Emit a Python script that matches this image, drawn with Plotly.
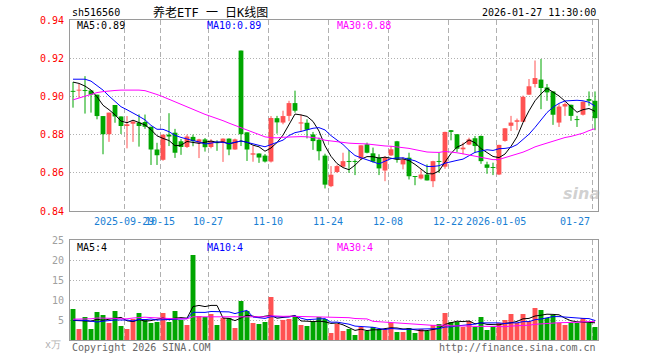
import plotly.graph_objects as go
import pandas as pd

# ---------------- data ----------------
dates = [
    "2025-09-16", "2025-09-17", "2025-09-18", "2025-09-19", "2025-09-22", "2025-09-23", "2025-09-24", "2025-09-25",
    "2025-09-26", "2025-09-29", "2025-09-30", "2025-10-09", "2025-10-10", "2025-10-13", "2025-10-14", "2025-10-15",
    "2025-10-16", "2025-10-17", "2025-10-20", "2025-10-21", "2025-10-22", "2025-10-23", "2025-10-24", "2025-10-27",
    "2025-10-28", "2025-10-29", "2025-10-30", "2025-10-31", "2025-11-03", "2025-11-04", "2025-11-05", "2025-11-06",
    "2025-11-07", "2025-11-10", "2025-11-11", "2025-11-12", "2025-11-13", "2025-11-14", "2025-11-17", "2025-11-18",
    "2025-11-19", "2025-11-20", "2025-11-21", "2025-11-24", "2025-11-25", "2025-11-26", "2025-11-27", "2025-11-28",
    "2025-12-01", "2025-12-02", "2025-12-03", "2025-12-04", "2025-12-05", "2025-12-08", "2025-12-09", "2025-12-10",
    "2025-12-11", "2025-12-12", "2025-12-15", "2025-12-16", "2025-12-17", "2025-12-18", "2025-12-19", "2025-12-22",
    "2025-12-23", "2025-12-24", "2025-12-25", "2025-12-26", "2025-12-29", "2025-12-30", "2025-12-31", "2026-01-05",
    "2026-01-06", "2026-01-07", "2026-01-08", "2026-01-09", "2026-01-12", "2026-01-13", "2026-01-14", "2026-01-15",
    "2026-01-16", "2026-01-19", "2026-01-20", "2026-01-21", "2026-01-22", "2026-01-23", "2026-01-26", "2026-01-27",
]

opens = [
    .9026, .9030, .9033, .9031, .9009, .8897, .8802, .8955, .8895, .8845,
    .8857, .8863, .8866, .8841, .8722, .8668, .8800, .8810, .8765, .8735,
    .8788, .8757, .8775, .8735, .8760, .8757, .8779, .8722, .9240, .8812,
    .8695, .8701, .8690, .8659, .8886, .8863, .8898, .8965, .8858, .8862,
    .8801, .8773, .8690, .8530, .8604, .8632, .8660, .8660, .8674, .8749,
    .8702, .8679, .8612, .8691, .8765, .8644, .8679, .8581, .8570, .8591,
    .8556, .8660, .8632, .8823, .8802, .8723, .8748, .8781, .8793, .8644,
    .8628, .8591, .8767, .8846, .8867, .8867, .9009, .9065, .9088, .9047,
    .9026, .8863, .8947, .8956, .8879, .8904, .8986, .8977,
]
highs = [
    .9075, .9065, .9106, .9031, .9009, .8897, .8915, .8955, .8895, .8897,
    .8871, .8906, .8905, .8841, .8757, .8800, .8912, .8830, .8777, .8800,
    .8800, .8778, .8782, .8776, .8770, .8780, .8780, .8779, .9240, .8812,
    .8740, .8702, .8698, .8897, .8898, .8925, .8977, .9030, .8905, .8880,
    .8814, .8784, .8700, .8635, .8640, .8705, .8719, .8670, .8744, .8758,
    .8732, .8697, .8688, .8740, .8767, .8682, .8705, .8581, .8618, .8644,
    .8663, .8705, .8815, .8824, .8802, .8758, .8784, .8793, .8795, .8658,
    .8653, .8747, .8834, .8898, .8884, .9004, .9091, .9188, .9196, .9065,
    .9027, .8960, .8968, .8957, .8898, .8974, .9026, .9026,
]
lows = [
    .8941, .8993, .8910, .8915, .8880, .8697, .8762, .8862, .8803, .8728,
    .8762, .8737, .8830, .8641, .8641, .8663, .8740, .8678, .8694, .8730,
    .8739, .8677, .8711, .8728, .8715, .8657, .8692, .8721, .8740, .8662,
    .8658, .8652, .8654, .8654, .8805, .8854, .8870, .8915, .8815, .8780,
    .8720, .8665, .8518, .8525, .8600, .8630, .8600, .8588, .8670, .8702,
    .8653, .8588, .8556, .8688, .8653, .8618, .8565, .8535, .8565, .8560,
    .8525, .8600, .8621, .8770, .8709, .8697, .8745, .8705, .8647, .8595,
    .8588, .8588, .8763, .8819, .8823, .8866, .9008, .9047, .8933, .8977,
    .8851, .8840, .8898, .8872, .8840, .8900, .8951, .8823,
]
closes = [
    .9024, .9032, .9028, .9009, .8897, .8802, .8915, .8895, .8845, .8854,
    .8868, .8845, .8841, .8722, .8692, .8800, .8790, .8705, .8735, .8790,
    .8766, .8775, .8734, .8767, .8755, .8779, .8722, .8775, .8802, .8722,
    .8702, .8680, .8659, .8887, .8864, .8897, .8965, .8925, .8864, .8825,
    .8766, .8713, .8538, .8590, .8635, .8661, .8657, .8657, .8744, .8705,
    .8658, .8623, .8679, .8723, .8670, .8667, .8582, .8578, .8591, .8560,
    .8661, .8657, .8814, .8814, .8726, .8732, .8775, .8740, .8661, .8626,
    .8625, .8746, .8833, .8863, .8875, .8998, .9053, .9096, .9044, .9021,
    .8904, .8947, .8960, .8898, .8876, .8972, .8977, .8886,
]
volumes = [  # 万
    7.75, 2.75, 5.75, 2.75, 7.0, 6.25, 4.25, 7.25, 3.5, 2.75,
    5.25, 6.75, 5.25, 4.25, 4.5, 6.75, 4.5, 7.25, 5.0, 3.75,
    21.25, 6.0, 5.75, 6.5, 3.75, 5.5, 5.5, 3.0, 9.75, 7.25,
    4.25, 4.0, 4.5, 10.75, 3.75, 5.0, 5.25, 6.0, 3.75, 3.5,
    4.5, 5.75, 5.25, 1.75, 4.0, 2.25, 2.75, 1.25, 3.25, 2.25,
    3.25, 2.75, 2.75, 4.25, 2.0, 2.0, 3.0, 1.75, 2.75, 2.25,
    3.75, 4.0, 6.75, 4.5, 4.5, 3.25, 4.75, 3.25, 5.75, 2.5,
    3.25, 4.25, 5.0, 6.5, 4.25, 6.5, 4.75, 8.0, 7.5, 5.5,
    6.25, 4.25, 3.75, 4.25, 4.25, 5.5, 4.25, 3.25,
]

ma5_head = [.9075, .9068, .9054, .9033]
ma10_head = [.9090, .9090, .9090, .9080, .9057, .9033, .9002, .8972, .8946]
ma30_head = [.8982, .8992, .9002, .9012, .9020, .9025, .9029, .9031, .9033, .9034,
             .9034, .9033, .9030, .9022, .9010, .8998, .8985, .8970, .8955, .8942,
             .8930, .8918, .8906, .8895, .8885, .8873, .8860, .8847, .8835]
vma5_head = [4.9, 4.8, 4.8, 4.7]
vma10_head = [5.0, 5.0, 4.9, 4.7, 4.5, 4.7, 4.9, 5.0, 5.0]
vma30_head = [5.2, 5.2, 5.2, 5.3, 5.5, 5.5, 5.5, 5.4, 5.3, 5.3,
              5.5, 5.6, 5.7, 5.6, 5.5, 5.5, 5.4, 5.3, 5.3, 5.3,
              5.8, 5.8, 5.8, 5.8, 5.8, 5.8, 5.8, 5.9, 5.9]

tick_dates = ["2025-09-29", "2025-10-15", "2025-10-27", "2025-11-10", "2025-11-24",
              "2025-12-08", "2025-12-22", "2026-01-05", "2026-01-27"]
tick_texts = ["2025-09-29", "10-15", "10-27", "11-10", "11-24",
              "12-08", "12-22", "2026-01-05", "01-27"]
price_ticks = [0.84, 0.86, 0.88, 0.90, 0.92, 0.94]
price_tick_texts = ["0.84", "0.86", "0.88", "0.90", "0.92", "0.94"]
vol_ticks = [5, 10, 15, 20, 25]
vol_tick_texts = ["5", "10", "15", "20", "25"]

code = "sh516560"
title = "养老ETF 一 日K线图"
stamp = "2026-01-27 11:30:00"
price_legend = ["MA5:0.89", "MA10:0.89", "MA30:0.88"]
vol_legend = ["MA5:4", "MA10:4", "MA30:4"]

# ---------------- derived ----------------
RED = "#ff5252"
GREEN = "#00a600"
MA_COLORS = ["#000000", "#0000ff", "#ff00ff"]
MONO = "DejaVu Sans Mono"


def moving(values, n, head):
    s = pd.Series(values).rolling(n).mean().tolist()
    return list(head) + s[len(head):]


idx = list(range(len(dates)))
up = [c >= o for o, c in zip(opens, closes)]
colors = [RED if u else GREEN for u in up]
body_base = [min(o, c) for o, c in zip(opens, closes)]
body_h = [max(abs(c - o), 0.0005) for o, c in zip(opens, closes)]

ma_price = [moving(closes, 5, ma5_head), moving(closes, 10, ma10_head), moving(closes, 30, ma30_head)]
ma_vol = [moving(volumes, 5, vma5_head), moving(volumes, 10, vma10_head), moving(volumes, 30, vma30_head)]

fig = go.Figure()

# wicks
for want, col in ((True, RED), (False, GREEN)):
    wx, wy = [], []
    for i in idx:
        if up[i] == want:
            wx += [i, i, None]
            wy += [lows[i], highs[i], None]
    fig.add_trace(go.Scatter(x=wx, y=wy, mode="lines", line=dict(color=col, width=1),
                             hoverinfo="skip", showlegend=False, xaxis="x", yaxis="y"))

# bodies
fig.add_trace(go.Bar(x=idx, y=body_h, base=body_base, width=0.8, marker=dict(color=colors, line=dict(width=0)),
                     showlegend=False, xaxis="x", yaxis="y"))

# volume bars
fig.add_trace(go.Bar(x=idx, y=volumes, width=0.82, marker=dict(color=colors, line=dict(width=0)),
                     showlegend=False, xaxis="x2", yaxis="y2"))

for series, col in zip(ma_price, MA_COLORS):
    fig.add_trace(go.Scatter(x=idx, y=series, mode="lines", line=dict(color=col, width=1),
                             hoverinfo="skip", showlegend=False, xaxis="x", yaxis="y"))
for series, col in zip(ma_vol, MA_COLORS):
    fig.add_trace(go.Scatter(x=idx, y=series, mode="lines", line=dict(color=col, width=1),
                             hoverinfo="skip", showlegend=False, xaxis="x2", yaxis="y2"))

W, H = 660, 360
X0, X1 = 70, 598
P_TOP, P_BOT = 20, 211
V_TOP, V_BOT = 240, 340

grid_x = [dates.index(d) - 0.5 for d in tick_dates]
xr = [-0.5, len(dates) - 0.5]

axis_common = dict(showline=True, mirror=True, linecolor="#9a9a9a", linewidth=1, zeroline=False,
                   showticklabels=False, ticks="")
fig.update_layout(
    width=W, height=H, margin=dict(l=0, r=0, t=0, b=0), autosize=False,
    paper_bgcolor="white", plot_bgcolor="white", barmode="overlay", hovermode=False,
    xaxis=dict(domain=[X0 / W, X1 / W], range=xr, tickvals=grid_x, showgrid=True,
               gridcolor="#b0b0b0", griddash="5px,3px", anchor="y", **axis_common),
    yaxis=dict(domain=[1 - P_BOT / H, 1 - P_TOP / H], range=[0.84, 0.94], tickvals=price_ticks,
               showgrid=True, gridcolor="#b0b0b0", griddash="1px,2px", anchor="x", **axis_common),
    xaxis2=dict(domain=[X0 / W, X1 / W], range=xr, tickvals=grid_x, showgrid=True,
                gridcolor="#b0b0b0", griddash="5px,3px", anchor="y2", **axis_common),
    yaxis2=dict(domain=[1 - V_BOT / H, 1 - V_TOP / H], range=[0, 25], tickvals=vol_ticks,
                showgrid=True, gridcolor="#b0b0b0", griddash="1px,2px", anchor="x2", **axis_common),
)

ann = []


def txt(text, x, y, color, size=10, xanchor="left", xref="paper", yref="paper", family=MONO, **kw):
    ann.append(dict(text=text, x=x, y=y, xref=xref, yref=yref, xanchor=xanchor, yanchor="middle",
                    showarrow=False, font=dict(family=family, size=size, color=color), **kw))


# header
txt(code, X0 / W, 1 - 13 / H, "#000000")
txt(title, 210 / W, 1 - 13 / H, "#000000", size=12, xanchor="center",
    family="DejaVu Sans Mono, Noto Sans CJK SC")
txt(stamp, 598 / W, 1 - 13 / H, "#000000", xanchor="right")

# price legend
for label, col, px in zip(price_legend, MA_COLORS, (75, 205, 335)):
    txt(label, px / W, 1 - 26 / H, col)
# volume legend
for label, col, px in zip(vol_legend, MA_COLORS, (75, 205, 335)):
    txt(label, px / W, 1 - 247 / H, col)

# y labels
for v, t in zip(price_ticks, price_tick_texts):
    txt(t, 66 / W, v, "#ff0000", xanchor="right", yref="y")
for v, t in zip(vol_ticks, vol_tick_texts):
    txt(t, 66 / W, v, "#a0a0a0", xanchor="right", yref="y2")
txt("x万", 63 / W, 1 - 344 / H, "#b0b0b0", xanchor="right")

# x labels (the first two overlap in the original too)
for d, t in zip(tick_dates, tick_texts):
    pos = dates.index(d) - 0.5
    anchor = "right" if d == tick_dates[-1] else "center"
    txt(t, pos, 1 - 221 / H, "#1a7fd4", xanchor=anchor, xref="x")

# footer
txt("Copyright 2026 SINA.COM", X0 / W, 1 - 347 / H, "#666666")
txt("http://finance.sina.com.cn", 598 / W, 1 - 347 / H, "#666666", xanchor="right")

# watermark
ann.append(dict(text="<b><i>sina</i></b>", x=581 / W, y=1 - 193 / H, xref="paper", yref="paper",
                xanchor="center", yanchor="middle", showarrow=False,
                font=dict(family="DejaVu Sans", size=16, color="rgba(170,170,170,0.55)")))

fig.update_layout(annotations=ann)
fig.write_html("out.html", config={"displayModeBar": False, "staticPlot": True},
               post_script="document.body.style.margin='0';document.body.style.padding='0';")
